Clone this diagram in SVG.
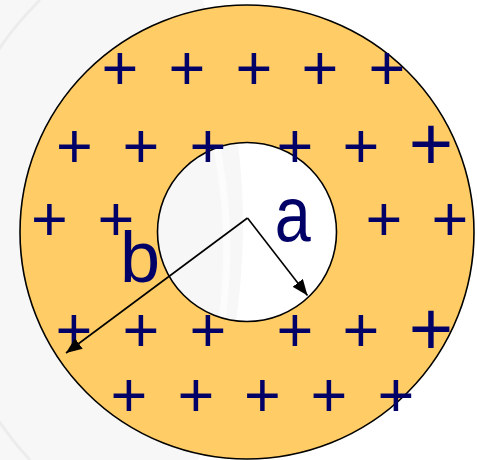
<svg xmlns="http://www.w3.org/2000/svg" width="477" height="460" viewBox="0 0 477 460">
  <style>
    .plus { font-family: "Liberation Sans", Arial, sans-serif; font-size: 63px; fill: #000066; text-anchor: middle; }
    .big { font-size: 76px; }
    .lbl { font-family: "Liberation Sans", Arial, sans-serif; fill: #000066; }
    .rim { fill: none; stroke: #000000; stroke-width: 1.6; }
    .arrow { stroke: #000000; stroke-width: 1.6; fill: none; marker-end: url(#head); }
  </style>
  <defs>
    <marker id="head" viewBox="0 0 16 13" markerWidth="16" markerHeight="13" refX="16" refY="6.5" orient="auto" markerUnits="userSpaceOnUse">
      <path d="M0,0 L16,6.5 L0,13 Z" fill="#000000"/>
    </marker>
  </defs>
  <rect x="0" y="0" width="477" height="460" fill="#ffffff"/>
  <g id="watermark">
    <ellipse cx="-60" cy="225" rx="303" ry="450" fill="#f7f7f7"/>
    <path d="M 40 0 A 330 330 0 0 0 30 460" fill="none" stroke="#ececec" stroke-width="3"/>
    <path d="M 205 100 A 400 460 0 0 1 215 360" fill="none" stroke="#fcfcfc" stroke-width="7"/>
  </g>
  <g id="charged-cylinder">
    <path d="M 20 232 A 227 227 0 1 1 474 232 A 227 227 0 1 1 20 232 Z M 157.5 232 A 89.5 89.5 0 1 0 336.5 232 A 89.5 89.5 0 1 0 157.5 232 Z" fill="#ffcc66" fill-rule="evenodd"/>
    <circle class="rim" cx="247" cy="232" r="227"/>
    <circle class="rim" cx="247" cy="232" r="89.5"/>
  </g>
  <g id="charges">
    <text class="plus" x="120" y="90">+</text>
    <text class="plus" x="187" y="90">+</text>
    <text class="plus" x="254" y="90">+</text>
    <text class="plus" x="320" y="90">+</text>
    <text class="plus" x="387" y="90">+</text>

    <text class="plus" x="74.5" y="168">+</text>
    <text class="plus" x="141" y="168">+</text>
    <text class="plus" x="208" y="168">+</text>
    <text class="plus" x="295" y="168">+</text>
    <text class="plus" x="361" y="168">+</text>
    <text class="plus big" x="431" y="170">+</text>

    <text class="plus" x="49.5" y="241">+</text>
    <text class="plus" x="116" y="241">+</text>
    <text class="plus" x="384" y="241">+</text>
    <text class="plus" x="450" y="241">+</text>

    <text class="plus" x="74" y="352">+</text>
    <text class="plus" x="141" y="352">+</text>
    <text class="plus" x="208" y="352">+</text>
    <text class="plus" x="295" y="352">+</text>
    <text class="plus" x="361" y="352">+</text>
    <text class="plus big" x="431" y="355">+</text>

    <text class="plus" x="129" y="417">+</text>
    <text class="plus" x="196" y="417">+</text>
    <text class="plus" x="262.5" y="417">+</text>
    <text class="plus" x="329" y="417">+</text>
    <text class="plus" x="396" y="417">+</text>
  </g>
  <g id="label-a">
    <text class="lbl" transform="translate(277.7,240.7) scale(0.84,1)" x="-3.5" y="0" font-size="77">a</text>
  </g>
  <g id="label-b">
    <text class="lbl" x="120" y="282" font-size="72">b</text>
  </g>
  <g id="connectors">
    <line class="arrow" x1="247.5" y1="218" x2="307.5" y2="295.5"/>
    <line class="arrow" x1="247.5" y1="218" x2="66" y2="353"/>
  </g>
</svg>
